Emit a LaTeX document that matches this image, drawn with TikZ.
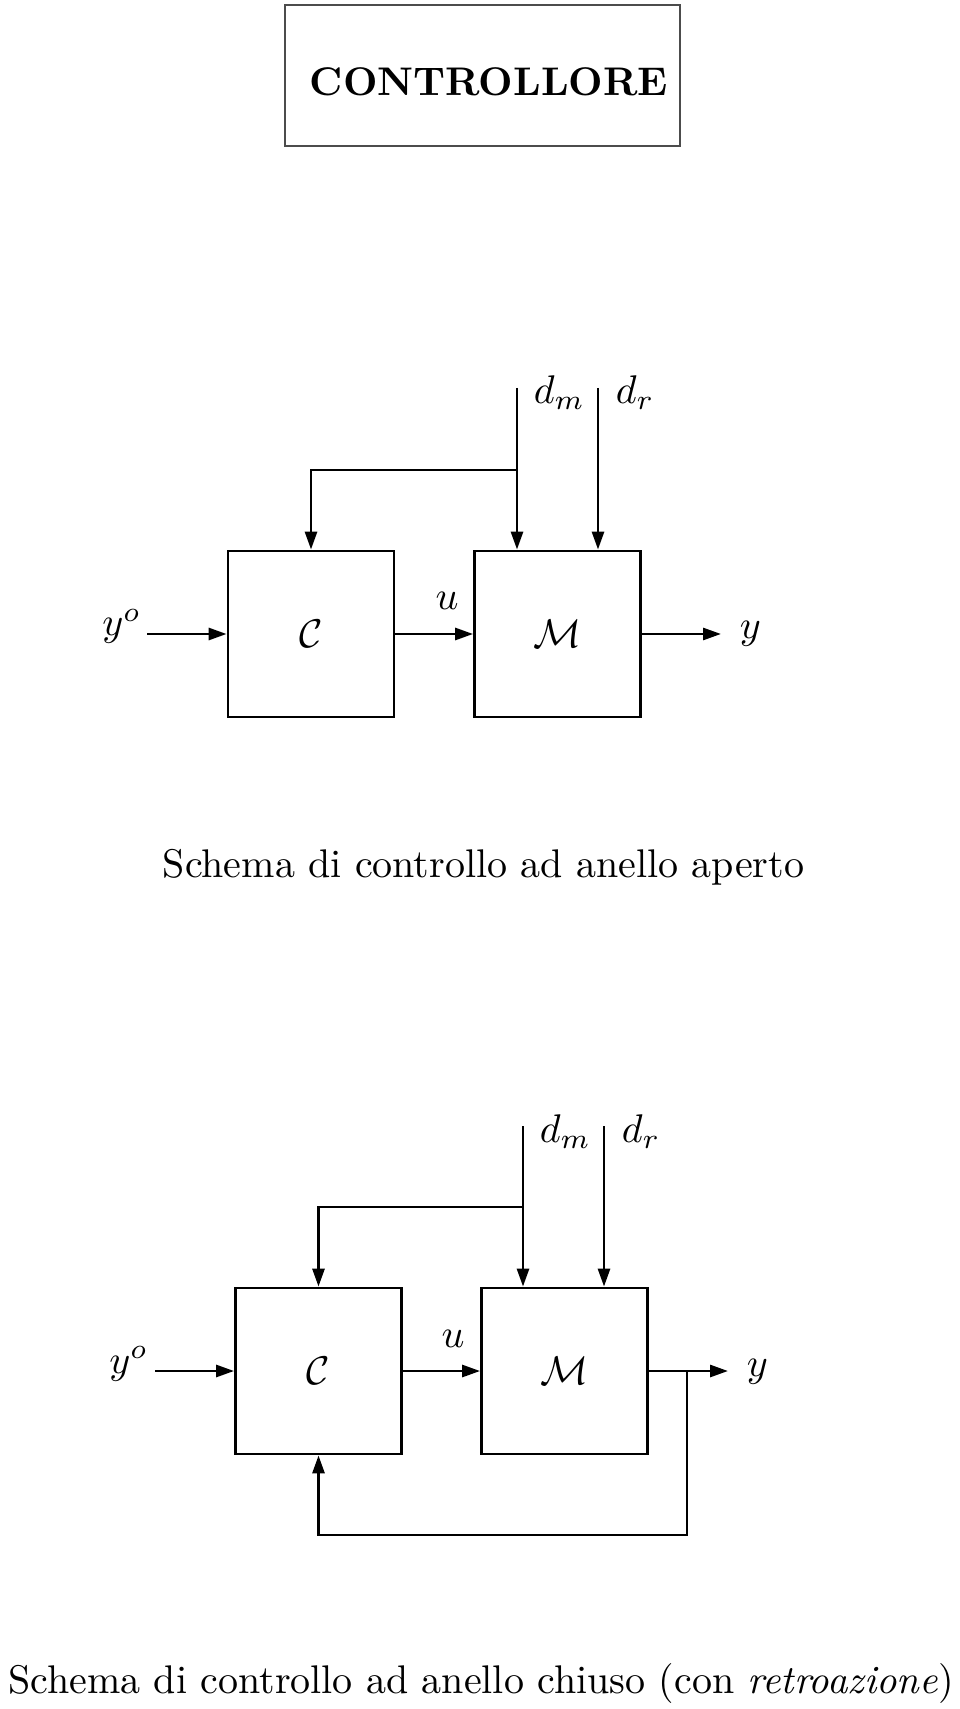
\documentclass[tikz,border=0pt]{standalone}
\usepackage{amsmath, amssymb}
\usepackage{xcolor}
\usetikzlibrary{arrows.meta, positioning}

\tikzset{
  blocco/.style={draw, line width=0.7pt, minimum width=41.5pt, minimum height=41.5pt, inner sep=0pt},
  segnale/.style={line width=0.7pt, -{Triangle[length=4.5pt,width=3pt]}},
  filo/.style={line width=0.7pt},
  etich/.style={inner sep=1pt},
}

\begin{document}
\begin{tikzpicture}[x=0.25pt, y=-0.25pt]
    \useasboundingbox (0,0) rectangle (960,1709);
    % titolo
    \node[draw=black!70, line width=0.45pt, minimum width=98.75pt, minimum height=35.25pt] (cornice) at (482.5,75.5) {};
    \node[font=\bfseries, anchor=base] (titolo) at (489,96) {CONTROLLORE};

    % anello aperto
    \node[blocco] (C1) at (311,634) {$\mathcal{C}$};
    \node[blocco] (M1) at (557.5,634) {$\mathcal{M}$};
    \coordinate (in1) at (147,634);
    \coordinate (out1) at (721,634);
    \coordinate (dm1) at (517,388);
    \coordinate (dr1) at (598,388);
    \coordinate (b1) at (517,470);
    \node[etich, anchor=base east] (yo1) at (146,636) {$y^o$};
    \node[etich, anchor=base west] (y1) at (735,639) {$y$};
    \node[etich, anchor=base] (u1) at (447,610) {$u$};
    \node[etich, anchor=base west] (dm1l) at (529,404) {$d_m$};
    \node[etich, anchor=base west] (dr1l) at (611,404) {$d_r$};
    \draw[segnale] (in1) -- (C1);
    \draw[segnale] (C1) -- (M1);
    \draw[segnale] (M1) -- (out1);
    \draw[segnale] (dm1) -- (dm1 |- M1.north);
    \draw[segnale] (dr1) -- (dr1 |- M1.north);
    \draw[segnale] (b1) -| (C1.north);
    \node[anchor=base] (cap1) at (483.5,877) {Schema di controllo ad anello aperto};

    % anello chiuso
    \node[blocco] (C2) at (318.5,1371) {$\mathcal{C}$};
    \node[blocco] (M2) at (564.5,1371) {$\mathcal{M}$};
    \coordinate (in2) at (155,1371);
    \coordinate (out2) at (728,1371);
    \coordinate (dm2) at (523,1126);
    \coordinate (dr2) at (604,1126);
    \coordinate (b2) at (523,1207);
    \coordinate (fb2) at (687,1371);
    \node[etich, anchor=base east] (yo2) at (153,1373) {$y^o$};
    \node[etich, anchor=base west] (y2) at (742,1376) {$y$};
    \node[etich, anchor=base] (u2) at (453,1347) {$u$};
    \node[etich, anchor=base west] (dm2l) at (535,1142) {$d_m$};
    \node[etich, anchor=base west] (dr2l) at (617,1142) {$d_r$};
    \draw[segnale] (in2) -- (C2);
    \draw[segnale] (C2) -- (M2);
    \draw[segnale] (M2) -- (out2);
    \draw[segnale] (dm2) -- (dm2 |- M2.north);
    \draw[segnale] (dr2) -- (dr2 |- M2.north);
    \draw[segnale] (b2) -| (C2.north);
    \draw[segnale] (fb2) -- ++(0,164) -| (C2.south);
    \node[anchor=base] (cap2) at (481,1693) {Schema di controllo ad anello chiuso (con \textit{retroazione})};
\end{tikzpicture}
\end{document}
